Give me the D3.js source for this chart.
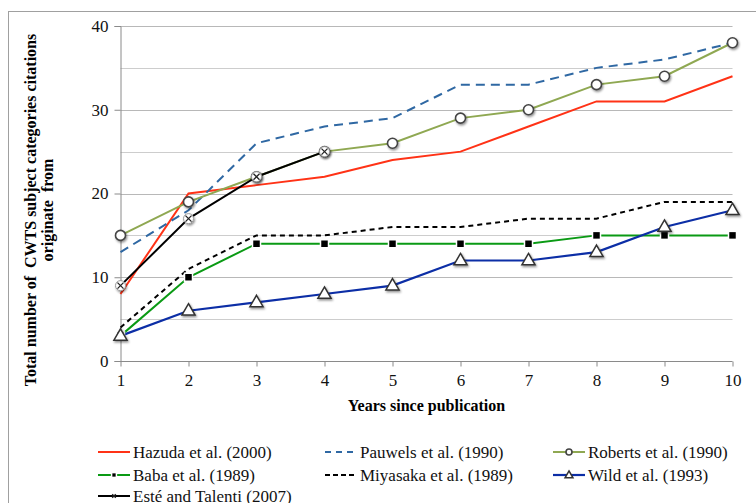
<!DOCTYPE html>
<html>
<head>
<meta charset="utf-8">
<script src="https://cdn.jsdelivr.net/npm/d3@7"></script>
<style>
  body { margin: 0; background: #fff; }
</style>
</head>
<body>
<script>
var years = [1, 2, 3, 4, 5, 6, 7, 8, 9, 10];
var yTicks = [0, 10, 20, 30, 40];
var gridValues = [5, 10, 15, 20, 25, 30, 35, 40];

var hazuda   = [8, 20, 21, 22, 24, 25, 28, 31, 31, 34];
var pauwels  = [13, 18, 26, 28, 29, 33, 33, 35, 36, 38];
var roberts  = [15, 19, 22, 25, 26, 29, 30, 33, 34, 38];
var baba     = [3, 10, 14, 14, 14, 14, 14, 15, 15, 15];
var miyasaka = [4, 11, 15, 15, 16, 16, 17, 17, 19, 19];
var wild     = [3, 6, 7, 8, 9, 12, 12, 13, 16, 18];
var este     = [9, 17, 22, 25];

var seriesNames = ["Hazuda et al. (2000)", "Pauwels et al. (1990)", "Roberts et al. (1990)",
                   "Baba et al. (1989)", "Miyasaka et al. (1989)", "Wild et al. (1993)",
                   "Esté and Talenti (2007)"];

var series = [
  {name: seriesNames[0], values: hazuda,   color: "#ff3216", dash: null,  legDash: null,  marker: null,       width: 2},
  {name: seriesNames[1], values: pauwels,  color: "#2f68a3", dash: "9,6", legDash: "6,5", marker: null,       width: 2},
  {name: seriesNames[2], values: roberts,  color: "#8fa852", dash: null,  legDash: null,  marker: "circle",   width: 2},
  {name: seriesNames[3], values: baba,     color: "#0a9a14", dash: null,  legDash: null,  marker: "square",   width: 2},
  {name: seriesNames[4], values: miyasaka, color: "#000000", dash: "5,4", legDash: "5,3", marker: null,       width: 2},
  {name: seriesNames[5], values: wild,     color: "#0c2ea6", dash: null,  legDash: null,  marker: "triangle", width: 2.2},
  {name: seriesNames[6], values: este,     color: "#000000", dash: null,  legDash: null,  marker: "cross",    width: 2}
];

var FONT = "'Liberation Serif', 'Times New Roman', Tinos, serif";

var W = 756, H = 503;
var margin = {left: 120.5, right: 23.5, top: 26, bottom: 142};

var svg = d3.select("body").append("svg")
  .attr("width", W)
  .attr("height", H)
  .style("font-family", FONT);

var defs = svg.append("defs");
var f = defs.append("filter").attr("id", "shadow")
  .attr("x", "-50%").attr("y", "-50%").attr("width", "200%").attr("height", "200%");
f.append("feDropShadow").attr("dx", 1).attr("dy", 1.5).attr("stdDeviation", 1)
  .attr("flood-color", "#000").attr("flood-opacity", 0.45);

// outer frame
svg.append("rect")
  .attr("x", 8.5).attr("y", 11.5)
  .attr("width", W + 10).attr("height", H + 10)
  .attr("fill", "none").attr("stroke", "#a0a0a0").attr("stroke-width", 1);

var x = d3.scaleLinear().domain([1, 10]).range([margin.left, W - margin.right]);
var y = d3.scaleLinear().domain([0, 40]).range([H - margin.bottom, margin.top]);

// grid
svg.append("g").selectAll("line")
  .data(gridValues)
  .enter().append("line")
  .attr("x1", x(1)).attr("x2", x(10))
  .attr("y1", d => Math.round(y(d)) + 0.5)
  .attr("y2", d => Math.round(y(d)) + 0.5)
  .attr("stroke", d => d % 10 === 0 ? "#b8b8b8" : "#cdcdcd")
  .attr("stroke-width", 1.2);

// axes
var yAxis = svg.append("g")
  .attr("transform", "translate(" + margin.left + ",0)")
  .call(d3.axisLeft(y).tickValues(yTicks).tickSize(6).tickPadding(6));
yAxis.attr("font-family", null);
yAxis.selectAll("path, line").attr("stroke", "#8a8a8a");
yAxis.selectAll("text").attr("font-size", 17).attr("fill", "#111")
  .style("font-family", FONT);

var xAxis = svg.append("g")
  .attr("transform", "translate(0," + (Math.round(y(0)) + 0.5) + ")")
  .call(d3.axisBottom(x).tickValues(years).tickFormat(d3.format("d")).tickSize(5).tickPadding(7));
xAxis.attr("font-family", null);
xAxis.selectAll("path, line").attr("stroke", "#8a8a8a");
xAxis.select("path").attr("d", "M" + x(1) + ",0H" + x(10));
xAxis.selectAll("text").attr("font-size", 17).attr("fill", "#111")
  .style("font-family", FONT);

// axis titles
svg.append("text")
  .attr("x", (x(1) + x(10)) / 2).attr("y", 411)
  .attr("text-anchor", "middle")
  .attr("font-size", 16).attr("font-weight", "bold")
  .text("Years since publication");

var yt = svg.append("text")
  .attr("transform", "translate(0,210) rotate(-90)")
  .attr("text-anchor", "middle")
  .attr("font-size", 16).attr("font-weight", "bold");
yt.append("tspan").attr("x", 0).attr("y", 36).attr("xml:space", "preserve")
  .text("Total number of  CWTS subject categories citations");
yt.append("tspan").attr("x", 0).attr("y", 53).attr("xml:space", "preserve")
  .text("originate  from");

// lines
var line = d3.line()
  .x((d, i) => x(years[i]))
  .y(d => y(d));

var plot = svg.append("g");
series.forEach(function(s) {
  plot.append("path")
    .datum(s.values)
    .attr("d", line)
    .attr("fill", "none")
    .attr("stroke", s.color)
    .attr("stroke-width", s.width)
    .attr("stroke-dasharray", s.dash);
});

function drawMarker(g, type, cx, cy, scale) {
  scale = scale || 1;
  if (type === "circle") {
    g.append("circle").attr("cx", cx).attr("cy", cy).attr("r", 5 * scale)
      .attr("fill", "#fff").attr("stroke", "#444").attr("stroke-width", 1.6)
      .attr("filter", scale < 1 ? null : "url(#shadow)");
  } else if (type === "square") {
    g.append("rect").attr("x", cx - 4 * scale).attr("y", cy - 4 * scale)
      .attr("width", 8 * scale).attr("height", 8 * scale)
      .attr("fill", "#000").attr("stroke", "#fff").attr("stroke-width", 1.5);
  } else if (type === "triangle") {
    g.append("path")
      .attr("d", d3.symbol().type(d3.symbolTriangle).size(75 * scale * scale)())
      .attr("transform", "translate(" + cx + "," + (cy + 0.5) + ")")
      .attr("fill", "#fff").attr("stroke", "#333").attr("stroke-width", 1.5)
      .attr("filter", scale < 1 ? null : "url(#shadow)");
  } else if (type === "cross") {
    if (scale >= 1) {
      g.append("circle").attr("cx", cx).attr("cy", cy).attr("r", 5 * scale)
        .attr("fill", "#fff").attr("stroke", "#999").attr("stroke-width", 1)
        .attr("filter", "url(#shadow)");
    }
    var r = 3 * scale;
    g.append("path")
      .attr("d", "M" + (cx - r) + "," + (cy - r) + "L" + (cx + r) + "," + (cy + r) +
                 "M" + (cx - r) + "," + (cy + r) + "L" + (cx + r) + "," + (cy - r))
      .attr("stroke", "#222").attr("stroke-width", 1.3);
  }
}

series.forEach(function(s) {
  if (!s.marker) return;
  var g = plot.append("g");
  s.values.forEach(function(v, i) {
    drawMarker(g, s.marker, x(years[i]), y(v));
  });
});

// legend
var legCols = [98, 325, 553];
var legRows = [452, 475, 496];
var legend = svg.append("g");
series.forEach(function(s, i) {
  var lx = legCols[i % 3], ly = legRows[Math.floor(i / 3)];
  var g = legend.append("g");
  if (s.marker) {
    g.append("rect").attr("x", lx + 11).attr("y", ly - 4)
      .attr("width", 11).attr("height", 8).attr("fill", "#fff");
  }
  g.append("line")
    .attr("x1", lx).attr("x2", lx + 32)
    .attr("y1", ly).attr("y2", ly)
    .attr("stroke", s.color).attr("stroke-width", s.width)
    .attr("stroke-dasharray", s.legDash);
  if (s.marker) drawMarker(g, s.marker, lx + 16, ly, 0.6);
  g.append("text")
    .attr("x", lx + 35).attr("y", ly + 6)
    .attr("font-size", 17).attr("fill", "#111")
    .text(s.name);
});
</script>
</body>
</html>
